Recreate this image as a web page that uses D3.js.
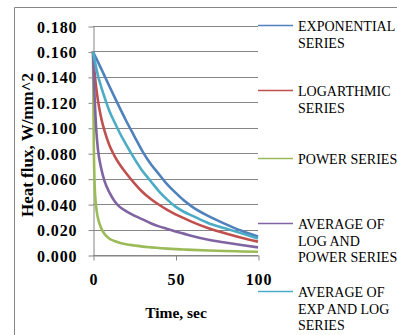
<!DOCTYPE html>
<html>
<head>
<meta charset="utf-8">
<script src="https://cdn.jsdelivr.net/npm/d3@7"></script>
<style>
  body { margin: 0; background: #fff; }
  svg { display: block; font-family: "Liberation Serif", "Times New Roman", serif; }
  svg text { font-family: "Liberation Serif", "Times New Roman", serif; }
  .tick text { font-weight: bold; fill: #000; }
</style>
</head>
<body>
<div id="chart"></div>
<script>
// time points, sec
var times = [0, 0.5, 1, 2, 3, 5, 7, 10, 13, 16, 20, 25, 30, 35, 40, 45, 50, 55, 60, 70, 80, 90, 100];

// heat flux, W/mm^2
var expSeries = [0.160, 0.1585, 0.157, 0.1545, 0.1518, 0.1463, 0.1408, 0.1325, 0.1243, 0.1162, 0.1057, 0.0935, 0.0815, 0.0715, 0.0635, 0.0555, 0.049, 0.043, 0.038, 0.0305, 0.0245, 0.019, 0.0145];
var logSeries = [0.160, 0.151, 0.143, 0.131, 0.1215, 0.1075, 0.0975, 0.086, 0.078, 0.0715, 0.0645, 0.0565, 0.0495, 0.044, 0.0395, 0.0355, 0.032, 0.029, 0.026, 0.021, 0.017, 0.0135, 0.0105];
var powSeries = [0.160, 0.085, 0.055, 0.037, 0.029, 0.021, 0.0165, 0.0128, 0.011, 0.0097, 0.0085, 0.0075, 0.0066, 0.006, 0.0055, 0.005, 0.0046, 0.0043, 0.004, 0.0035, 0.0031, 0.0028, 0.0025];
var avgLogPow = [0.160, 0.140, 0.124, 0.098, 0.083, 0.068, 0.058, 0.049, 0.0425, 0.038, 0.0345, 0.031, 0.028, 0.025, 0.0225, 0.0205, 0.0185, 0.0168, 0.015, 0.012, 0.0098, 0.0078, 0.006];
var avgExpLog = [0.160, 0.1565, 0.153, 0.147, 0.141, 0.132, 0.124, 0.113, 0.1045, 0.0965, 0.087, 0.076, 0.066, 0.058, 0.050, 0.0435, 0.038, 0.034, 0.031, 0.025, 0.021, 0.017, 0.013];

var seriesNames = [
    ["EXPONENTIAL", "SERIES"],
    ["LOGARTHMIC", "SERIES"],
    ["POWER SERIES"],
    ["AVERAGE OF", "LOG AND", "POWER SERIES"],
    ["AVERAGE OF", "EXP AND LOG", "SERIES"]
];
var seriesData = [expSeries, logSeries, powSeries, avgLogPow, avgExpLog];
var colors = ["#4F81BD", "#C0504D", "#9BBB59", "#8064A2", "#4BACC6"];

var yTicks = [0, 0.02, 0.04, 0.06, 0.08, 0.10, 0.12, 0.14, 0.16, 0.18];
var xTicks = [0, 50, 100];

var W = 397, H = 335;
var plot = {left: 93, right: 258, top: 26, bottom: 255};
var gridColor = "#868686";
var serif = "Liberation Serif, Times New Roman, serif";

var svg = d3.select("#chart").append("svg")
    .attr("width", W)
    .attr("height", H)
    .attr("font-family", serif);

svg.append("rect").attr("width", W).attr("height", H).attr("fill", "#fff");

// chart area border (cut off at right and bottom)
svg.append("path")
    .attr("d", "M14.5," + H + "V7.5H" + W)
    .attr("fill", "none")
    .attr("stroke", gridColor);

var x = d3.scaleLinear().domain([0, 100]).range([plot.left, plot.right]);
var y = d3.scaleLinear().domain([0, 0.18]).range([plot.bottom, plot.top]);

// gridlines
svg.append("g")
    .selectAll("line")
    .data(yTicks)
    .enter().append("line")
    .attr("x1", plot.left)
    .attr("x2", plot.right)
    .attr("y1", function(d) { return Math.round(y(d)) + 0.5; })
    .attr("y2", function(d) { return Math.round(y(d)) + 0.5; })
    .attr("stroke", gridColor);

// axes
var yAxis = svg.append("g")
    .attr("transform", "translate(" + (plot.left + 0.5) + ",0.5)")
    .call(d3.axisLeft(y).tickValues(yTicks).tickSize(5).tickSizeOuter(0).tickPadding(11)
        .tickFormat(d3.format(".3f")));
yAxis.attr("font-family", serif);
yAxis.selectAll("text")
    .style("font-size", "16px")
    .style("letter-spacing", "0.9px")
    .attr("dy", "0.35em");

var xAxis = svg.append("g")
    .attr("transform", "translate(0.5," + (plot.bottom + 0.5) + ")")
    .call(d3.axisBottom(x).tickValues(xTicks).tickSize(5).tickSizeOuter(0).tickPadding(13)
        .tickFormat(d3.format("d")));
xAxis.attr("font-family", serif);
xAxis.selectAll("text").style("font-size", "16px").style("letter-spacing", "0.9px");

svg.selectAll(".domain, .tick line").attr("stroke", gridColor);

// series lines
var line = d3.line()
    .x(function(d) { return x(d[0]); })
    .y(function(d) { return y(d[1]); })
    .curve(d3.curveMonotoneX);

seriesData.forEach(function(vals, i) {
    var pts = times.map(function(t, j) { return [t, vals[j]]; });
    svg.append("path")
        .datum(pts)
        .attr("d", line)
        .attr("fill", "none")
        .attr("stroke", colors[i])
        .attr("stroke-width", 2.6)
        .attr("stroke-linejoin", "round");
});

// axis titles
svg.append("text")
    .attr("x", 176)
    .attr("y", 318)
    .attr("text-anchor", "middle")
    .style("font-weight", "bold")
    .style("font-size", "15.5px")
    .text("Time, sec");

svg.append("text")
    .attr("transform", "translate(33,145) rotate(-90)")
    .attr("text-anchor", "middle")
    .style("font-weight", "bold")
    .style("font-size", "17px")
    .text("Heat flux, W/mm^2");

// legend
var legendY = [25, 90, 158, 223, 291];
var legend = svg.append("g");
seriesNames.forEach(function(lines, i) {
    var g = legend.append("g").attr("transform", "translate(0," + legendY[i] + ")");
    g.append("line")
        .attr("x1", 258).attr("x2", 293)
        .attr("y1", 0.5).attr("y2", 0.5)
        .attr("stroke", colors[i])
        .attr("stroke-width", 1.5);
    var t = g.append("text")
        .attr("x", 298)
        .attr("font-family", serif)
        .style("font-size", "14px")
        .attr("fill", "#000");
    lines.forEach(function(s, k) {
        t.append("tspan")
            .attr("x", 298)
            .attr("y", 6 + k * 16.7)
            .text(s);
    });
});
</script>
</body>
</html>
